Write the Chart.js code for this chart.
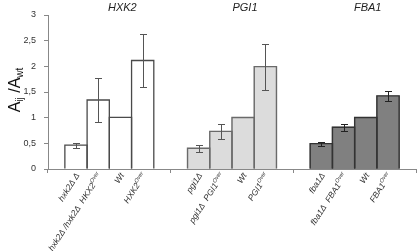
<!DOCTYPE html>
<html><head><meta charset="utf-8">
<script src="https://cdn.jsdelivr.net/npm/chart.js@4.4.0/dist/chart.umd.min.js"></script>
<style>html,body{margin:0;padding:0;background:#fff}#wrap{width:417px;height:251px}</style>
</head><body><div id="wrap"><canvas id="c" width="417" height="251"></canvas></div>
<script>
const groups = ['HXK2', 'PGI1', 'FBA1'];
const yTicks = [0, 0.5, 1, 1.5, 2, 2.5, 3];
const hxk2Labels = [[['hxk2Δ Δ', 0]], [['hxk2Δ /hxk2Δ  HKX2', 0], ['Over', 1]], [['Wt', 0]], [['HXK2', 0], ['Over', 1]]];
const pgi1Labels = [[['pgi1Δ', 0]], [['pgi1Δ  PGI1', 0], ['Over', 1]], [['Wt', 0]], [['PGI1', 0], ['Over', 1]]];
const fba1Labels = [[['fba1Δ', 0]], [['fba1Δ  FBA1', 0], ['Over', 1]], [['Wt', 0]], [['FBA1', 0], ['Over', 1]]];
const hxk2Values = [0.46, 1.34, 1.0, 2.11];
const pgi1Values = [0.40, 0.73, 1.0, 1.99];
const fba1Values = [0.49, 0.81, 1.0, 1.42];
const hxk2Errors = [0.05, 0.43, 0, 0.52];
const pgi1Errors = [0.07, 0.15, 0, 0.45];
const fba1Errors = [0.045, 0.065, 0, 0.105];

const groupValues = [hxk2Values, pgi1Values, fba1Values];
const groupErrors = [hxk2Errors, pgi1Errors, fba1Errors];
const groupLabels = [hxk2Labels, pgi1Labels, fba1Labels];
const fills = ['#ffffff', '#dcdcdc', '#808080'];
const borders = ['#4a4a4a', '#6a6a6a', '#333333'];

const datasets = [0, 1, 2, 3].map(i => ({
  data: groupValues.map(g => g[i]),
  backgroundColor: fills,
  borderWidth: 0,
  inflateAmount: 0.6,
  barPercentage: 1,
  categoryPercentage: 0.725
}));

const extras = {
  id: 'extras',
  afterDatasetsDraw(chart) {
    const ctx = chart.ctx;
    const y = chart.scales.y;
    const x = chart.scales.x;
    ctx.save();
    // bar outlines
    chart.data.datasets.forEach((ds, di) => {
      const meta = chart.getDatasetMeta(di);
      meta.data.forEach((el, gi) => {
        const l = el.x - el.width / 2;
        const r = el.x + el.width / 2;
        const t = el.y - 0.2;
        const b = el.base;
        ctx.strokeStyle = borders[gi];
        ctx.lineWidth = gi === 0 ? 1.3 : 1.4;
        ctx.beginPath();
        ctx.moveTo(l, b); ctx.lineTo(l, t); ctx.lineTo(r, t); ctx.lineTo(r, b);
        ctx.stroke();
      });
    });
    // error bars
    chart.data.datasets.forEach((ds, di) => {
      const meta = chart.getDatasetMeta(di);
      meta.data.forEach((el, gi) => {
        const err = groupErrors[gi][di];
        if (!err) return;
        const v = groupValues[gi][di];
        const top = Math.round(y.getPixelForValue(v + err)) + 0.5, bot = Math.round(y.getPixelForValue(v - err)) + 0.5;
        const cx = Math.round(el.x) + 0.5;
        ctx.strokeStyle = gi === 2 ? '#222' : '#555';
        ctx.lineWidth = 1;
        ctx.beginPath();
        ctx.moveTo(cx, top); ctx.lineTo(cx, bot);
        ctx.moveTo(cx - 3.5, top); ctx.lineTo(cx + 3.5, top);
        ctx.moveTo(cx - 3.5, bot); ctx.lineTo(cx + 3.5, bot);
        ctx.stroke();
      });
    });
    // rotated bar labels
    chart.data.datasets.forEach((ds, di) => {
      const meta = chart.getDatasetMeta(di);
      meta.data.forEach((el, gi) => {
        const segs = groupLabels[gi][di];
        ctx.save();
        ctx.translate(el.x + 2, y.bottom + 5);
        ctx.rotate(-57 * Math.PI / 180);
        ctx.fillStyle = '#333';
        ctx.textBaseline = 'middle';
        ctx.textAlign = 'left';
        let total = 0;
        const fonts = segs.map(s => s[1] ? 'italic 5.5px "Liberation Sans", Arial, sans-serif' : 'italic 8.5px "Liberation Sans", Arial, sans-serif');
        segs.forEach((s, k) => { ctx.font = fonts[k]; total += ctx.measureText(s[0]).width; });
        let cx = -total;
        segs.forEach((s, k) => {
          ctx.font = fonts[k];
          ctx.fillText(s[0], cx, s[1] ? -3 : 0);
          cx += ctx.measureText(s[0]).width;
        });
        ctx.restore();
      });
    });
    // group titles
    ctx.fillStyle = '#222';
    ctx.font = 'italic 11px "Liberation Sans", Arial, sans-serif';
    ctx.textAlign = 'center';
    ctx.textBaseline = 'middle';
    groups.forEach((g, i) => {
      ctx.fillText(g, x.getPixelForValue(i) + 13, 8);
    });
    // y axis title
    ctx.save();
    ctx.translate(14, 90);
    ctx.rotate(-Math.PI / 2);
    const parts = [['A', 0], ['ij', 1], [' /A', 0], ['wt', 1]];
    const pf = p => p[1] ? '10px "Liberation Sans", Arial, sans-serif' : '16px "Liberation Sans", Arial, sans-serif';
    let tw = 0;
    parts.forEach(p => { ctx.font = pf(p); tw += ctx.measureText(p[0]).width; });
    let px = -tw / 2;
    ctx.textAlign = 'left';
    ctx.textBaseline = 'alphabetic';
    ctx.fillStyle = '#111';
    parts.forEach(p => {
      ctx.font = pf(p);
      ctx.fillText(p[0], px, p[1] ? 9 : 6);
      px += ctx.measureText(p[0]).width;
    });
    ctx.restore();
    ctx.restore();
  }
};

new Chart(document.getElementById('c'), {
  type: 'bar',
  data: { labels: groups, datasets },
  options: {
    responsive: false,
    animation: false,
    layout: { padding: { top: 15, right: 1, left: 0, bottom: 0 } },
    plugins: { legend: { display: false }, tooltip: { enabled: false } },
    scales: {
      x: {
        offset: true,
        grid: { display: true, drawOnChartArea: false, offset: true, color: '#888', tickLength: 4, tickColor: '#888' },
        border: { color: '#888', width: 1 },
        ticks: { display: false },
        afterFit(s) { s.height = 82; }
      },
      y: {
        min: 0, max: 3,
        afterBuildTicks(s) { s.ticks = yTicks.map(v => ({ value: v })); },
        grid: { drawOnChartArea: false, color: '#888', tickLength: 4, tickColor: '#888' },
        border: { color: '#888', width: 1 },
        ticks: {
          padding: 8,
          color: '#333',
          font: { size: 9, family: '"Liberation Sans", Arial, sans-serif' },
          callback: v => String(v).replace('.', ',')
        },
        afterFit(s) { s.width = 48; }
      }
    }
  },
  plugins: [extras]
});
</script></body></html>
